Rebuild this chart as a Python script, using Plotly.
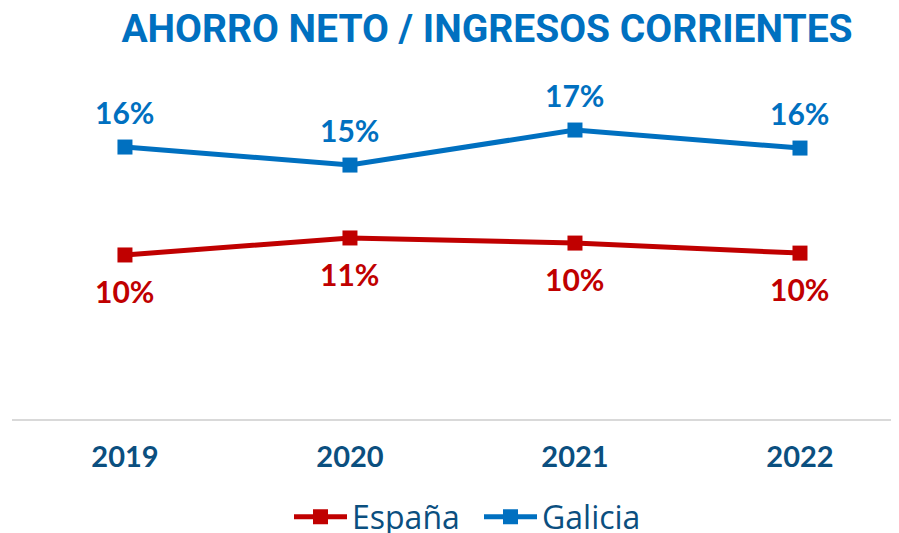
import plotly.graph_objects as go

years = ["2019", "2020", "2021", "2022"]
espana = [0.0965, 0.1065, 0.1035, 0.0976]
galicia = [0.160, 0.1494, 0.170, 0.1594]

BLUE = "#0070C0"
RED = "#C00000"
DARK = "#0B4F7F"
FONT = "Lato, 'Open Sans', sans-serif"

fig = go.Figure()
fig.add_trace(go.Scatter(
    x=years, y=espana, name="España", mode="lines+markers",
    line=dict(color=RED, width=5), marker=dict(symbol="square", size=15, color=RED),
))
fig.add_trace(go.Scatter(
    x=years, y=galicia, name="Galicia", mode="lines+markers",
    line=dict(color=BLUE, width=5), marker=dict(symbol="square", size=15, color=BLUE),
))

for i, v in enumerate(espana):
    fig.add_annotation(x=i, y=v, text=f"<b>{v:.0%}</b>", showarrow=False,
                       xref="x", yref="y", yanchor="middle", yshift=-36,
                       font=dict(family=FONT, size=30, color=RED))
for i, v in enumerate(galicia):
    fig.add_annotation(x=i, y=v, text=f"<b>{v:.0%}</b>", showarrow=False,
                       xref="x", yref="y", yanchor="middle", yshift=35,
                       font=dict(family=FONT, size=30, color=BLUE))

fig.update_layout(
    width=891, height=525,
    margin=dict(l=4, r=0, t=52, b=114, autoexpand=False),
    paper_bgcolor="white", plot_bgcolor="white",
    title=dict(text="<b>AHORRO NETO / INGRESOS CORRIENTES</b>",
               x=0.5376, xanchor="center", y=0.962, yanchor="middle",
               font=dict(family="Roboto, sans-serif", size=39, color=BLUE)),
    xaxis=dict(type="category", range=[-0.502, 3.44], showgrid=False,
               showline=True, linecolor="#D9D9D9", linewidth=2, ticks="",
               tickfont=dict(family=FONT, size=29, color=DARK, weight="bold"),
               ticklabelstandoff=11),
    yaxis=dict(range=[0, 0.2112], visible=False, showgrid=False, zeroline=False),
    showlegend=True,
    legend=dict(orientation="h", x=0.5265, xanchor="center", y=-0.196, yanchor="top",
                font=dict(family="'Open Sans', sans-serif", size=32, color=DARK),
                itemwidth=53, entrywidth=122, entrywidthmode="pixels"),
)

fig.write_html("out.html")
